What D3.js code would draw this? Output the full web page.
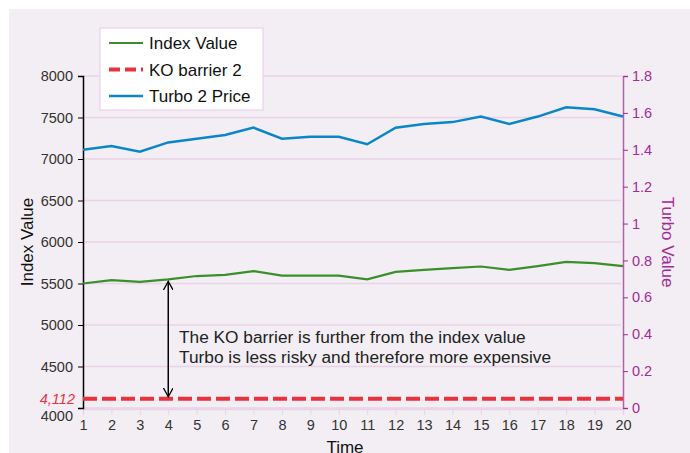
<!DOCTYPE html>
<html>
<head>
<meta charset="utf-8">
<script src="https://cdn.jsdelivr.net/npm/d3@7"></script>
<style>
  body { margin: 0; background: #fff; }
  text { font-family: "Liberation Sans", Arial, sans-serif; }
</style>
</head>
<body>
<div id="chart"></div>
<script>
// data
var times = d3.range(1, 21);
var indexValue = [5500, 5540, 5520, 5550, 5590, 5605, 5650, 5595, 5595, 5595,
                  5550, 5640, 5665, 5685, 5705, 5665, 5710, 5760, 5745, 5710];
var turboPrice = [1.40, 1.42, 1.39, 1.44, 1.46, 1.48, 1.52, 1.46, 1.47, 1.47,
                  1.43, 1.52, 1.54, 1.55, 1.58, 1.54, 1.58, 1.63, 1.62, 1.58];
var koBarrier = times.map(function () { return 4112; });
var leftTicks = d3.range(4000, 8001, 500);
var rightTicks = [0, 0.2, 0.4, 0.6, 0.8, 1, 1.2, 1.4, 1.6, 1.8];
var legendNames = ["Index Value", "KO barrier 2", "Turbo 2 Price"];

var W = 690, H = 453;
var plotLeft = 83, plotRight = 623, plotTop = 76, plotBottom = 408;

var svg = d3.select("#chart").append("svg")
    .attr("width", W)
    .attr("height", H);

// panel background
svg.append("rect")
    .attr("x", 9).attr("y", 9)
    .attr("width", W - 9).attr("height", H - 9)
    .attr("fill", "#f3eef4");

var x = d3.scaleLinear().domain([1, 20]).range([plotLeft, plotRight]);
var yL = d3.scaleLinear().domain([4000, 8000]).range([plotBottom, plotTop]);
var yR = d3.scaleLinear().domain([0, 1.8]).range([plotBottom, plotTop]);

// gridlines
svg.append("g")
  .selectAll("line")
  .data(leftTicks)
  .enter().append("line")
    .attr("x1", plotLeft).attr("x2", plotRight - 2)
    .attr("y1", function (d) { return yL(d); })
    .attr("y2", function (d) { return yL(d); })
    .attr("stroke", "#ead2e7")
    .attr("stroke-width", 1.5);

// bottom axis
var xAxis = svg.append("g")
    .attr("transform", "translate(0," + (plotBottom + 1) + ")")
    .call(d3.axisBottom(x).tickValues(times).tickFormat(d3.format("d")).tickSize(6).tickPadding(5));
xAxis.select(".domain").attr("stroke", "#ead2e7").attr("stroke-width", 1.5);
xAxis.selectAll(".tick line").attr("stroke", "#ead2e7");
xAxis.selectAll(".tick text").attr("fill", "#333").style("font-size", "14.5px");

// left axis
var yAxisL = svg.append("g")
    .attr("transform", "translate(" + plotLeft + ",0)")
    .call(d3.axisLeft(yL).tickValues(leftTicks).tickFormat(d3.format("d")).tickSizeOuter(0).tickSize(5).tickPadding(5));
yAxisL.select(".domain").attr("stroke", "#000").attr("stroke-width", 1.5);
yAxisL.selectAll(".tick line").attr("stroke", "#000");
yAxisL.selectAll(".tick text").attr("fill", "#333").style("font-size", "14.5px");
// 4000 label sits slightly lower in the reference
yAxisL.selectAll(".tick text").filter(function (d) { return d === 4000; }).attr("dy", "0.85em");

// right axis
var purple = "#a22b96";
var yAxisR = svg.append("g")
    .attr("transform", "translate(" + plotRight + ",0)")
    .call(d3.axisRight(yR).tickValues(rightTicks).tickFormat(d3.format("")).tickSizeOuter(0).tickSize(5).tickPadding(4));
yAxisR.select(".domain").attr("stroke", "#b65fad").attr("stroke-width", 1.5);
yAxisR.selectAll(".tick line").attr("stroke", purple);
yAxisR.selectAll(".tick text").attr("fill", purple).style("font-size", "14.5px");

// lines
var lineL = d3.line().x(function (d, i) { return x(times[i]); }).y(function (d) { return yL(d); });
var lineR = d3.line().x(function (d, i) { return x(times[i]); }).y(function (d) { return yR(d); });

svg.append("path").datum(koBarrier)
    .attr("d", lineL)
    .attr("fill", "none")
    .attr("stroke", "#e8333f")
    .attr("stroke-width", 4)
    .attr("stroke-dasharray", "14,5");

svg.append("path").datum(indexValue)
    .attr("d", lineL)
    .attr("fill", "none")
    .attr("stroke", "#3a8f2a")
    .attr("stroke-width", 2.2);

svg.append("path").datum(turboPrice)
    .attr("d", lineR)
    .attr("fill", "none")
    .attr("stroke", "#0a86c8")
    .attr("stroke-width", 2.5);

// barrier label
svg.append("text")
    .attr("x", plotLeft - 8).attr("y", yL(4112) + 5)
    .attr("text-anchor", "end")
    .attr("fill", "#e8333f")
    .style("font-size", "14.5px")
    .style("font-style", "italic")
    .text("4,112");

// annotation arrow
var defs = svg.append("defs");
defs.append("marker")
    .attr("id", "arrow")
    .attr("viewBox", "0 0 10 10")
    .attr("refX", 9).attr("refY", 5)
    .attr("markerWidth", 10).attr("markerHeight", 10)
    .attr("markerUnits", "userSpaceOnUse")
    .attr("orient", "auto-start-reverse")
  .append("path")
    .attr("d", "M0,0 L9,5 L0,10")
    .attr("fill", "none")
    .attr("stroke", "#000")
    .attr("stroke-width", 1.3);

svg.append("line")
    .attr("x1", x(4)).attr("x2", x(4))
    .attr("y1", yL(indexValue[3]) + 2)
    .attr("y2", yL(4112) - 2)
    .attr("stroke", "#000")
    .attr("stroke-width", 1.5)
    .attr("marker-start", "url(#arrow)")
    .attr("marker-end", "url(#arrow)");

var note = svg.append("text")
    .attr("fill", "#222")
    .style("font-size", "17.3px");
note.append("tspan").attr("x", 179).attr("y", 343).text("The KO barrier is further from the index value");
note.append("tspan").attr("x", 179).attr("y", 363).text("Turbo is less risky and therefore more expensive");

// axis titles
svg.append("text")
    .attr("transform", "translate(33," + ((plotTop + plotBottom) / 2) + ") rotate(-90)")
    .attr("text-anchor", "middle")
    .attr("fill", "#111")
    .style("font-size", "17px")
    .text("Index Value");

svg.append("text")
    .attr("transform", "translate(662," + ((plotTop + plotBottom) / 2) + ") rotate(90)")
    .attr("text-anchor", "middle")
    .attr("fill", purple)
    .style("font-size", "17px")
    .text("Turbo Value");

svg.append("text")
    .attr("x", 345).attr("y", 453)
    .attr("text-anchor", "middle")
    .attr("fill", "#111")
    .style("font-size", "17px")
    .text("Time");

// legend
var legend = svg.append("g").attr("transform", "translate(100,28)");
legend.append("rect")
    .attr("width", 163).attr("height", 82)
    .attr("fill", "#fff")
    .attr("stroke", "#ead2e7")
    .attr("stroke-width", 1.2);
var legendColors = ["#3a8f2a", "#e8333f", "#0a86c8"];
var legendDash = [null, "11,5", null];
var legendWidth = [2.2, 4, 2.5];
legendNames.forEach(function (name, i) {
  var ly = 15 + i * 26.5;
  legend.append("line")
      .attr("x1", 9).attr("x2", 43)
      .attr("y1", ly).attr("y2", ly)
      .attr("stroke", legendColors[i])
      .attr("stroke-width", legendWidth[i])
      .attr("stroke-dasharray", legendDash[i]);
  legend.append("text")
      .attr("x", 49).attr("y", ly + 6)
      .attr("fill", "#111")
      .style("font-size", "17px")
      .text(name);
});
</script>
</body>
</html>
